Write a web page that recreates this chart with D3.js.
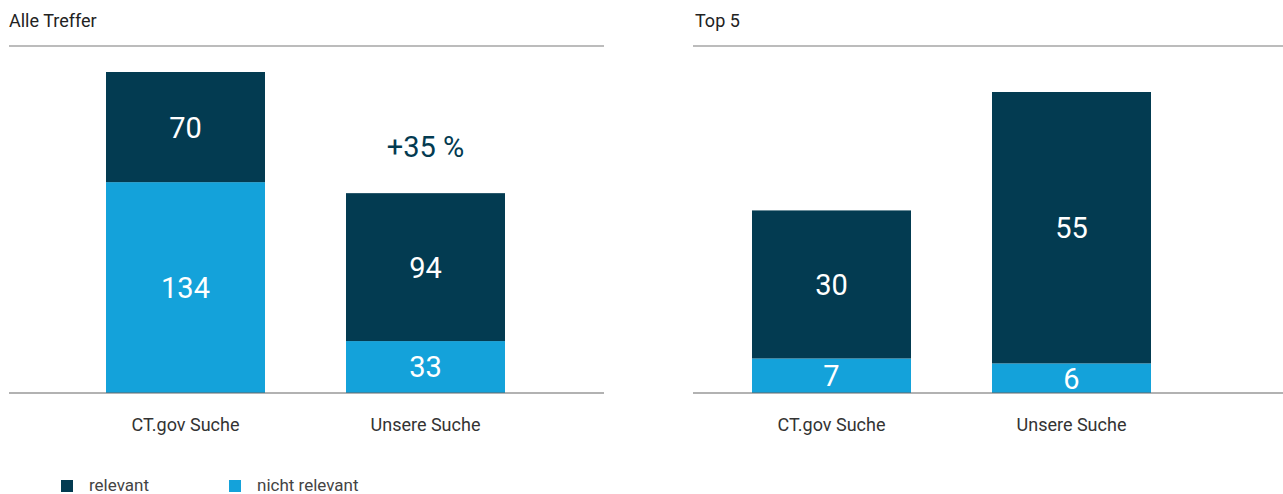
<!DOCTYPE html>
<html>
<head>
<meta charset="utf-8">
<script src="https://cdn.jsdelivr.net/npm/d3@7"></script>
<style>
  body { margin: 0; background: #fff; }
  svg { display: block; font-family: Roboto, "Noto Sans", sans-serif; }
</style>
</head>
<body>
<svg id="chart"></svg>
<script>
const width = 1283;
const height = 494;

// data
const categories = ["CT.gov Suche", "Unsere Suche"];
const panelTitles = ["Alle Treffer", "Top 5"];
const relevantAll = [70, 94];
const notRelevantAll = [134, 33];
const relevantTop = [30, 55];
const notRelevantTop = [7, 6];
const changeLabel = "+35 %";
const legendLabels = ["relevant", "nicht relevant"];

const darkBlue = "#033b51";
const lightBlue = "#14a2da";

const svg = d3.select("#chart")
    .attr("width", width)
    .attr("height", height);

const baseY = 393;
const lineY = 46;

const drawPanel = (opts) => {
    const g = svg.append("g");

    const x = d3.scaleBand()
        .domain(categories)
        .range(opts.xRange)
        .paddingInner(0.3375)
        .paddingOuter(0.16875);

    const y = d3.scaleLinear()
        .domain([0, opts.yMax])
        .range([baseY, opts.topY]);

    // title and top rule
    g.append("text")
        .attr("x", opts.titleX)
        .attr("y", 27)
        .attr("fill", "#222")
        .style("font-size", "18px")
        .text(opts.title);

    g.append("line")
        .attr("x1", opts.lineX[0]).attr("x2", opts.lineX[1])
        .attr("y1", lineY).attr("y2", lineY)
        .attr("stroke", "#a6a6a6")
        .attr("stroke-width", 1.5);

    const rows = categories.map((c, i) => ({
        cat: c,
        low: opts.notRelevant[i],
        high: opts.relevant[i]
    }));

    // light (nicht relevant) segment at the bottom
    g.selectAll(".low")
        .data(rows)
        .enter()
        .append("rect")
        .attr("x", d => x(d.cat))
        .attr("width", x.bandwidth())
        .attr("y", d => y(d.low))
        .attr("height", d => baseY - y(d.low))
        .attr("fill", lightBlue);

    // dark (relevant) segment on top
    g.selectAll(".high")
        .data(rows)
        .enter()
        .append("rect")
        .attr("x", d => x(d.cat))
        .attr("width", x.bandwidth())
        .attr("y", d => y(d.low + d.high))
        .attr("height", d => y(d.low) - y(d.low + d.high))
        .attr("fill", darkBlue);

    const valueLabel = (val, y0, y1, cat) => {
        g.append("text")
            .attr("x", x(cat) + x.bandwidth() / 2)
            .attr("y", (y0 + y1) / 2)
            .attr("dy", "0.36em")
            .attr("text-anchor", "middle")
            .attr("fill", "#fff")
            .style("font-size", "29px")
            .text(val);
    };

    rows.forEach(d => {
        valueLabel(d.low, y(d.low), baseY, d.cat);
        valueLabel(d.high, y(d.low + d.high), y(d.low), d.cat);
    });

    // baseline
    g.append("line")
        .attr("x1", opts.lineX[0]).attr("x2", opts.lineX[1])
        .attr("y1", baseY).attr("y2", baseY)
        .attr("stroke", "#666")
        .attr("stroke-width", 1.2);

    // category labels
    g.selectAll(".cat")
        .data(categories)
        .enter()
        .append("text")
        .attr("x", d => x(d) + x.bandwidth() / 2)
        .attr("y", 431)
        .attr("text-anchor", "middle")
        .attr("fill", "#333")
        .style("font-size", "18px")
        .text(d => d);

    return { x, y, g };
};

const left = drawPanel({
    title: panelTitles[0],
    titleX: 9,
    lineX: [9, 604],
    xRange: [65.5, 545.5],
    yMax: 204,
    topY: 72,
    relevant: relevantAll,
    notRelevant: notRelevantAll
});

drawPanel({
    title: panelTitles[1],
    titleX: 695,
    lineX: [693, 1283],
    xRange: [711.5, 1191.5],
    yMax: 61,
    topY: 92,
    relevant: relevantTop,
    notRelevant: notRelevantTop
});

// +35 % annotation above Unsere Suche
const c2 = categories[1];
left.g.append("text")
    .attr("x", left.x(c2) + left.x.bandwidth() / 2)
    .attr("y", left.y(relevantAll[1] + notRelevantAll[1]) - 47)
    .attr("dy", "0.36em")
    .attr("text-anchor", "middle")
    .attr("fill", darkBlue)
    .style("font-size", "29px")
    .text(changeLabel);

// legend
const legend = svg.append("g").attr("transform", "translate(61, 480)");
const legendX = [0, 168];
legend.selectAll("rect")
    .data([darkBlue, lightBlue])
    .enter()
    .append("rect")
    .attr("x", (d, i) => legendX[i])
    .attr("y", 0)
    .attr("width", 12)
    .attr("height", 12)
    .attr("fill", d => d);
legend.selectAll("text")
    .data(legendLabels)
    .enter()
    .append("text")
    .attr("x", (d, i) => legendX[i] + 28)
    .attr("y", 11)
    .attr("fill", "#444")
    .style("font-size", "17px")
    .text(d => d);
</script>
</body>
</html>
